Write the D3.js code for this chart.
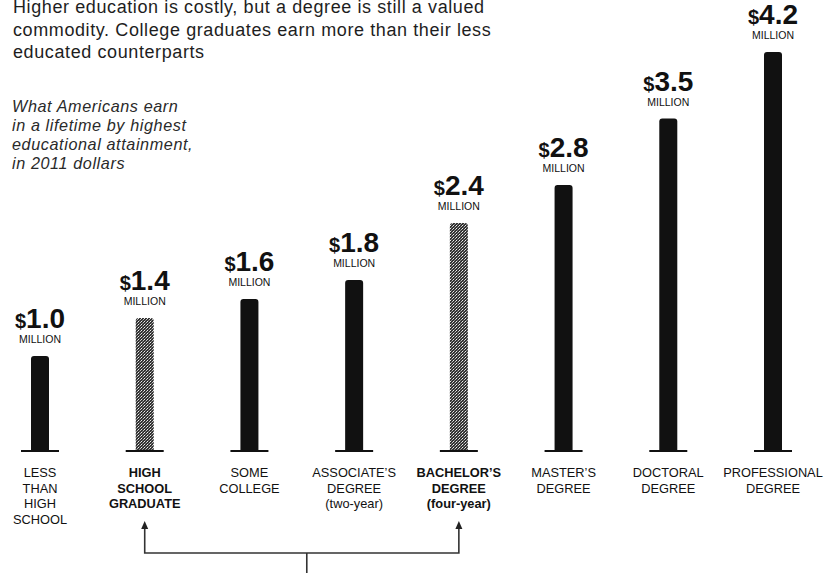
<!DOCTYPE html>
<html><head><meta charset="utf-8">
<script src="https://cdn.jsdelivr.net/npm/d3@7"></script>
<style>body{margin:0;background:#fff}</style>
</head><body>
<svg id="c" width="824" height="573"></svg>
<script>
const categories = ["lessHS","hsGrad","someCollege","associate","bachelor","master","doctoral","professional"];
const categoryLabels = [
  ["LESS","THAN","HIGH","SCHOOL"],
  ["HIGH","SCHOOL","GRADUATE"],
  ["SOME","COLLEGE"],
  ["ASSOCIATE’S","DEGREE","(two-year)"],
  ["BACHELOR’S","DEGREE","(four-year)"],
  ["MASTER’S","DEGREE"],
  ["DOCTORAL","DEGREE"],
  ["PROFESSIONAL","DEGREE"]
];
const earningsMillions = [1.0, 1.4, 1.6, 1.8, 2.4, 2.8, 3.5, 4.2];
const highlighted = [false, true, false, false, true, false, false, false];
const titleLines = [
  "Higher education is costly, but a degree is still a valued",
  "commodity. College graduates earn more than their less",
  "educated counterparts"
];
const subtitleLines = [
  "What Americans earn",
  "in a lifetime by highest",
  "educational attainment,",
  "in 2011 dollars"
];
const bracketFrom = "hsGrad", bracketTo = "bachelor";

const svg = d3.select("#c");
const baseY = 451;
const x = d3.scalePoint().domain(categories).range([40, 773]);
const y = d3.scaleLinear().domain([0, 4.2]).range([baseY, 52]);

// stipple pattern
const defs = svg.append("defs");
const pat = defs.append("pattern").attr("id","stip").attr("patternUnits","userSpaceOnUse")
  .attr("width",3).attr("height",3);
pat.append("rect").attr("width",3).attr("height",3).attr("fill","#333");
pat.append("rect").attr("x",0).attr("y",0).attr("width",1).attr("height",1).attr("fill","#eeeeee");
pat.append("rect").attr("x",2).attr("y",1).attr("width",1).attr("height",1).attr("fill","#c4c4c4");
pat.append("rect").attr("x",1).attr("y",2).attr("width",1).attr("height",1).attr("fill","#8a8a8a");

// title
svg.append("text").attr("font-family","'Liberation Sans', Arial, sans-serif")
  .attr("font-size",18).attr("letter-spacing",0.6).attr("fill","#1e1e1e")
  .selectAll("tspan").data(titleLines).join("tspan")
  .attr("x",13).attr("y",(d,i)=>13 + i*22.5).text(d=>d);

// subtitle
svg.append("text").attr("font-family","'Liberation Sans', Arial, sans-serif")
  .attr("font-size",16.2).attr("letter-spacing",0.6).attr("font-style","italic").attr("fill","#2a2a2a")
  .selectAll("tspan").data(subtitleLines).join("tspan")
  .attr("x",12).attr("y",(d,i)=>112 + i*19).text(d=>d);

const barW = 18, r = 3;
function barPath(cx, top) {
  const x0 = cx - barW/2, x1 = cx + barW/2;
  return `M${x0},${baseY} V${top+r} Q${x0},${top} ${x0+r},${top} H${x1-r} Q${x1},${top} ${x1},${top+r} V${baseY} Z`;
}

const g = svg.append("g");
const items = categories.map((c,i)=>({c, v: earningsMillions[i], hl: highlighted[i], lines: categoryLabels[i]}));

g.selectAll("path.bar").data(items).join("path").attr("class","bar")
  .attr("d", d => barPath(x(d.c), y(d.v)))
  .attr("fill", d => d.hl ? "url(#stip)" : "#111");

g.selectAll("line.ground").data(items).join("line").attr("class","ground")
  .attr("x1", d => x(d.c) - 19).attr("x2", d => x(d.c) + 19)
  .attr("y1", baseY).attr("y2", baseY).attr("stroke","#111").attr("stroke-width",2);

// value labels
const vl = g.selectAll("text.val").data(items).join("text").attr("class","val")
  .attr("x", d => x(d.c)).attr("y", d => y(d.v) - 28)
  .attr("text-anchor","middle").attr("font-family","'Liberation Sans', Arial, sans-serif")
  .attr("font-weight","bold").attr("fill","#111");
vl.append("tspan").attr("font-size",20).text("$");
vl.append("tspan").attr("font-size",28).text(d => d3.format(".1f")(d.v));

g.selectAll("text.mil").data(items).join("text").attr("class","mil")
  .attr("x", d => x(d.c)).attr("y", d => y(d.v) - 13)
  .attr("text-anchor","middle").attr("font-family","'Liberation Sans', Arial, sans-serif")
  .attr("font-size",10.5).attr("fill","#111").text("MILLION");

// category labels
const cl = g.selectAll("text.cat").data(items).join("text").attr("class","cat")
  .attr("text-anchor","middle").attr("font-family","'Liberation Sans', Arial, sans-serif")
  .attr("font-size",12.8).attr("fill","#111")
  .attr("font-weight", d => d.hl ? "bold" : "normal");
cl.selectAll("tspan").data(d => d.lines.map(t => ({t, cx: x(d.c)}))).join("tspan")
  .attr("x", d => d.cx).attr("y", (d,i) => 477 + i*15.5).text(d => d.t);

// bracket
const bx1 = x(bracketFrom), bx2 = x(bracketTo);
const by = 553, tipY = 521;
const stemX = (bx1 + bx2)/2 + 5;
svg.append("path")
  .attr("d", `M${bx1},${tipY+6} V${by} H${bx2} V${tipY+6} M${stemX},${by} V${573}`)
  .attr("fill","none").attr("stroke","#333").attr("stroke-width",1.6);
svg.selectAll("path.arrow").data([bx1,bx2]).join("path").attr("class","arrow")
  .attr("d", d => `M${d},${tipY} L${d-3.5},${tipY+8} L${d+3.5},${tipY+8} Z`).attr("fill","#222");
</script>
</body></html>
